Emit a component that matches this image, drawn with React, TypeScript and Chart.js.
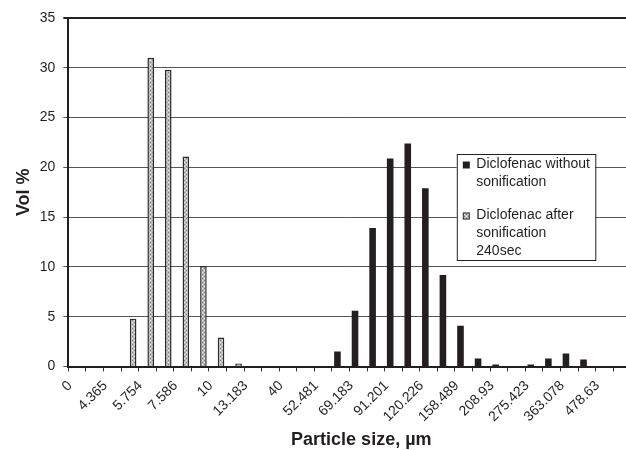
import React, { useEffect, useRef } from 'react';
import { Chart, registerables } from 'chart.js';

Chart.register(...registerables);

// 32 category slots (labelled every other slot, the last one is cut off at the right)
const categories = [
  '0', '', '4.365', '', '5.754', '', '7.586', '', '10', '', '13.183', '', '40', '', '52.481', '',
  '69.183', '', '91.201', '', '120.226', '', '158.489', '', '208.93', '', '275.423', '', '363.078', '', '478.63', '',
];

const withoutSonication = [
  0, 0, 0, 0, 0, 0, 0, 0, 0, 0, 0, 0, 0, 0, 0.05, 1.5,
  5.6, 13.9, 20.9, 22.4, 17.9, 9.2, 4.1, 0.8, 0.2, 0.05, 0.2, 0.8, 1.3, 0.7, 0, 0,
];

const afterSonication = [
  0, 0, 0, 4.8, 31.0, 29.8, 21.1, 10.1, 2.9, 0.3, 0, 0, 0, 0, 0, 0,
  0, 0, 0, 0, 0, 0, 0, 0, 0, 0, 0, 0, 0, 0, 0, 0,
];

const legendWithout = ['Diclofenac without', 'sonification'];
const legendAfter = ['Diclofenac after', 'sonification', '240sec'];

const yTitle = 'Vol %';
const xTitle = 'Particle size, µm';

const FONT = "'Liberation Sans', Arial, Helvetica, sans-serif";
const DARK = '#231f20';

function makePattern(ctx: CanvasRenderingContext2D) {
  const c = document.createElement('canvas');
  c.width = 4;
  c.height = 4;
  const g = c.getContext('2d')!;
  g.fillStyle = '#bdbdbd';
  g.fillRect(0, 0, 4, 4);
  g.fillStyle = '#7a7a7a';
  g.fillRect(0, 0, 1, 1);
  g.fillRect(2, 2, 1, 1);
  g.fillStyle = '#ececec';
  g.fillRect(2, 0, 1, 1);
  g.fillRect(0, 2, 1, 1);
  return ctx.createPattern(c, 'repeat')!;
}

export default function App() {
  const ref = useRef<HTMLCanvasElement>(null);

  useEffect(() => {
    const canvas = ref.current!;
    const ctx = canvas.getContext('2d')!;
    const pattern = makePattern(ctx);

    const overlay = {
      id: 'overlay',
      afterDraw(chart: any) {
        const c = chart.ctx as CanvasRenderingContext2D;
        const a = chart.chartArea;
        c.save();
        // x axis title
        c.fillStyle = DARK;
        c.font = `bold 18px ${FONT}`;
        c.textAlign = 'center';
        c.textBaseline = 'middle';
        c.fillText(xTitle, a.left + 293, 440);

        // legend box
        const lx = a.left + 388.5;
        const ly = a.top + 136;
        const lw = 138.5;
        const lh = 106;
        c.fillStyle = '#ffffff';
        c.fillRect(lx, ly, lw, lh);
        c.strokeStyle = '#222';
        c.lineWidth = 1;
        c.strokeRect(lx + 0.5, ly + 0.5, lw, lh);

        c.font = `14px ${FONT}`;
        c.textAlign = 'left';
        c.textBaseline = 'middle';
        const tx = lx + 19.5;
        let y = ly + 10.5;
        c.fillStyle = DARK;
        c.fillRect(lx + 6, y - 3, 7, 7);
        legendWithout.forEach((t, i) => c.fillText(t, tx, y + i * 17.8));
        y = ly + 61.5;
        c.fillStyle = pattern;
        c.fillRect(lx + 6, y - 3, 7, 7);
        c.strokeStyle = '#333';
        c.strokeRect(lx + 6.5, y - 2.5, 6, 6);
        c.fillStyle = DARK;
        legendAfter.forEach((t, i) => c.fillText(t, tx, y + i * 17.6));
        c.restore();
      },
    };

    const chart = new Chart(canvas, {
      type: 'bar',
      data: {
        labels: categories,
        datasets: [
          {
            label: legendWithout.join(' '),
            data: withoutSonication,
            backgroundColor: DARK,
            borderWidth: 0,
            categoryPercentage: 0.75,
            barPercentage: 1.0,
          },
          {
            label: legendAfter.join(' '),
            data: afterSonication,
            backgroundColor: pattern,
            borderColor: '#2a2a2a',
            borderWidth: (c: any) => (c.raw > 0 ? 1.5 : 0),
            categoryPercentage: 0.75,
            barPercentage: 1.0,
          },
        ],
      },
      options: {
        responsive: false,
        animation: false,
        devicePixelRatio: 1,
        layout: { padding: { top: 18, right: 9, left: 0, bottom: 0 } },
        plugins: {
          legend: { display: false },
          tooltip: { enabled: false },
          title: { display: false },
        },
        scales: {
          x: {
            offset: true,
            afterFit: (s: any) => {
              s.height = 83.5;
            },
            grid: {
              display: true,
              offset: true,
              drawOnChartArea: false,
              drawTicks: true,
              tickLength: 5,
              color: '#333',
              lineWidth: 1,
            },
            border: { display: true, color: DARK, width: 2 },
            ticks: {
              autoSkip: false,
              minRotation: 45,
              maxRotation: 45,
              padding: 6,
              labelOffset: -7,
              color: DARK,
              font: { family: FONT, size: 14 },
            },
          },
          y: {
            min: 0,
            max: 35,
            afterFit: (s: any) => {
              s.width = 68.3;
            },
            grid: {
              color: (c: any) => (c.tick && c.tick.value === 35 ? '#222' : '#555'),
              lineWidth: (c: any) => (c.tick && c.tick.value === 35 ? 2 : 1),
              tickLength: 5,
            },
            border: { display: true, color: DARK, width: 2 },
            ticks: {
              stepSize: 5,
              padding: 8,
              color: DARK,
              font: { family: FONT, size: 14 },
            },
            title: {
              display: true,
              text: yTitle,
              color: DARK,
              font: { family: FONT, size: 18, weight: 'bold' },
              padding: { top: 13, bottom: 0 },
            },
          },
        },
      },
      plugins: [overlay],
    } as any);

    return () => chart.destroy();
  }, []);

  return (
    <div
      style={{
        position: 'fixed',
        left: 0,
        top: 0,
        width: 626,
        height: 450,
        overflow: 'hidden',
        background: '#fff',
      }}
    >
      <canvas ref={ref} width={640} height={450} style={{ display: 'block' }} />
    </div>
  );
}
